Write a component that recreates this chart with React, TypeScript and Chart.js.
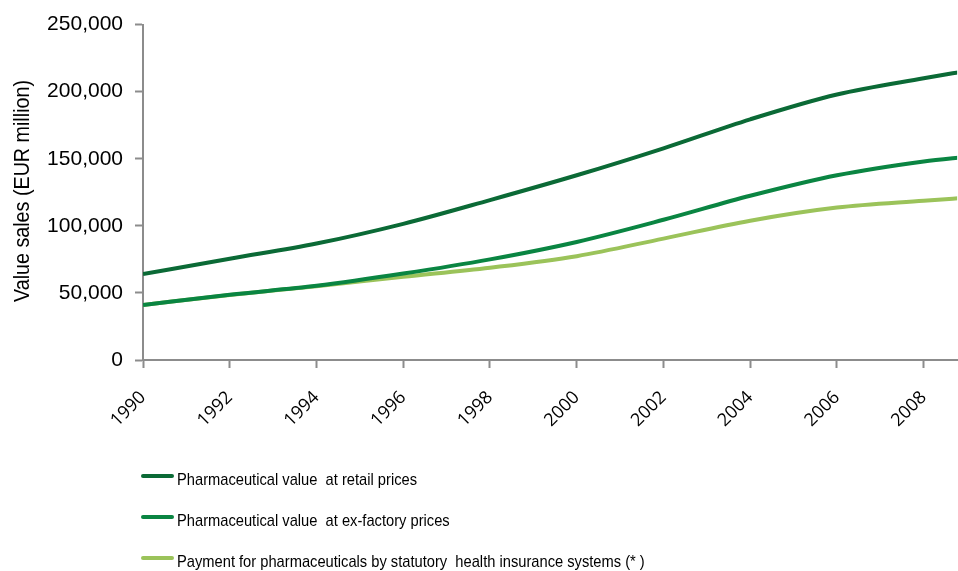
import React, { useEffect, useRef } from "react";
import { Chart, registerables } from "chart.js";

Chart.register(...registerables);

const years = [1990, 1992, 1994, 1996, 1998, 2000, 2002, 2004, 2006, 2008, 2009];
const xTickYears = [1990, 1992, 1994, 1996, 1998, 2000, 2002, 2004, 2006, 2008];
const retailValues = [64000, 75500, 86800, 101500, 119200, 137700, 157800, 179400, 197900, 210000, 215500];
const exFactoryValues = [41000, 48700, 55300, 64400, 75000, 88000, 104500, 122400, 137700, 148000, 151500];
const paymentValues = [41000, 48500, 55000, 62000, 68800, 77400, 90500, 103800, 113600, 118700, 121000];
const seriesLabels = [
  "Pharmaceutical value  at retail prices",
  "Pharmaceutical value  at ex-factory prices",
  "Payment for pharmaceuticals by statutory  health insurance systems (* )",
];
const seriesColors = ["#0b6a36", "#0a8542", "#9bc35a"];
const yTitle = "Value sales (EUR million)";

const customText = {
  id: "customText",
  afterDraw(chart: any) {
    const ctx = chart.ctx;
    // y-axis title
    ctx.save();
    ctx.font = "22px 'Liberation Sans', Arial, sans-serif";
    ctx.fillStyle = "#000";
    const tw = ctx.measureText(yTitle).width;
    const s = 222 / tw;
    ctx.translate(29, 191);
    ctx.rotate(-Math.PI / 2);
    ctx.scale(s, 1);
    ctx.textAlign = "center";
    ctx.textBaseline = "alphabetic";
    ctx.fillText(yTitle, 0, 0);
    ctx.restore();

    // legend
    ctx.save();
    ctx.font = "17px 'Liberation Sans', Arial, sans-serif";
    const w0 = ctx.measureText(chart.data.datasets[0].label).width;
    const ls = 240 / w0;
    chart.data.datasets.forEach((ds: any, i: number) => {
      const y = 476 + i * 41;
      ctx.strokeStyle = ds.borderColor;
      ctx.lineWidth = 4;
      ctx.lineCap = "round";
      ctx.beginPath();
      ctx.moveTo(143, y);
      ctx.lineTo(172, y);
      ctx.stroke();
      ctx.save();
      ctx.translate(177, y + 9);
      ctx.scale(ls, 1);
      ctx.fillStyle = "#000";
      ctx.textAlign = "left";
      ctx.textBaseline = "alphabetic";
      ctx.fillText(ds.label, 0, 0);
      ctx.restore();
    });
    ctx.restore();
  },
};

export default function App() {
  const ref = useRef<HTMLCanvasElement>(null);
  useEffect(() => {
    if (!ref.current) return;
    const mk = (vals: number[]) => years.map((x, i) => ({ x, y: vals[i] }));
    const chart = new Chart(ref.current, {
      type: "line",
      data: {
        datasets: [retailValues, exFactoryValues, paymentValues].map((vals, i) => ({
          label: seriesLabels[i],
          data: mk(vals),
          borderColor: seriesColors[i],
          backgroundColor: seriesColors[i],
          borderWidth: 4,
          pointRadius: 0,
          tension: 0.4,
          cubicInterpolationMode: "monotone" as const,
          fill: false,
        })),
      },
      options: {
        animation: false,
        responsive: true,
        maintainAspectRatio: false,
        layout: { padding: { top: 21, right: 0, left: 0, bottom: 0 } },
        plugins: { legend: { display: false }, tooltip: { enabled: false } },
        scales: {
          x: {
            type: "linear",
            min: 1990,
            max: 2008.77,
            afterBuildTicks: (axis: any) => {
              axis.ticks = xTickYears.map((v) => ({ value: v }));
            },
            afterFit: (axis: any) => {
              axis.height = 211;
            },
            grid: {
              drawOnChartArea: false,
              drawTicks: true,
              tickLength: 8,
              tickColor: "#8c8c8c",
              tickWidth: 2,
            },
            border: { display: true, color: "#8c8c8c", width: 2 },
            ticks: {
              autoSkip: false,
              maxRotation: 45,
              minRotation: 45,
              padding: 19,
              color: "#000",
              font: { family: "'Open Sans', sans-serif", size: 18 },
              callback: (v: any) => String(v),
            },
          },
          y: {
            min: 0,
            max: 250000,
            afterFit: (axis: any) => {
              axis.width = 143;
            },
            grid: {
              drawOnChartArea: false,
              drawTicks: true,
              tickLength: 8,
              tickColor: "#8c8c8c",
              tickWidth: 2,
            },
            border: { display: true, color: "#8c8c8c", width: 2 },
            ticks: {
              stepSize: 50000,
              padding: 12,
              color: "#000",
              font: { family: "'Liberation Sans', Arial, sans-serif", size: 21 },
              callback: (v: any) => Number(v).toLocaleString("en-US"),
            },
          },
        },
      },
      plugins: [customText],
    });
    return () => chart.destroy();
  }, []);
  return (
    <div style={{ position: "fixed", left: 0, top: 0, width: 958, height: 571, background: "#fff" }}>
      <canvas ref={ref} />
    </div>
  );
}
